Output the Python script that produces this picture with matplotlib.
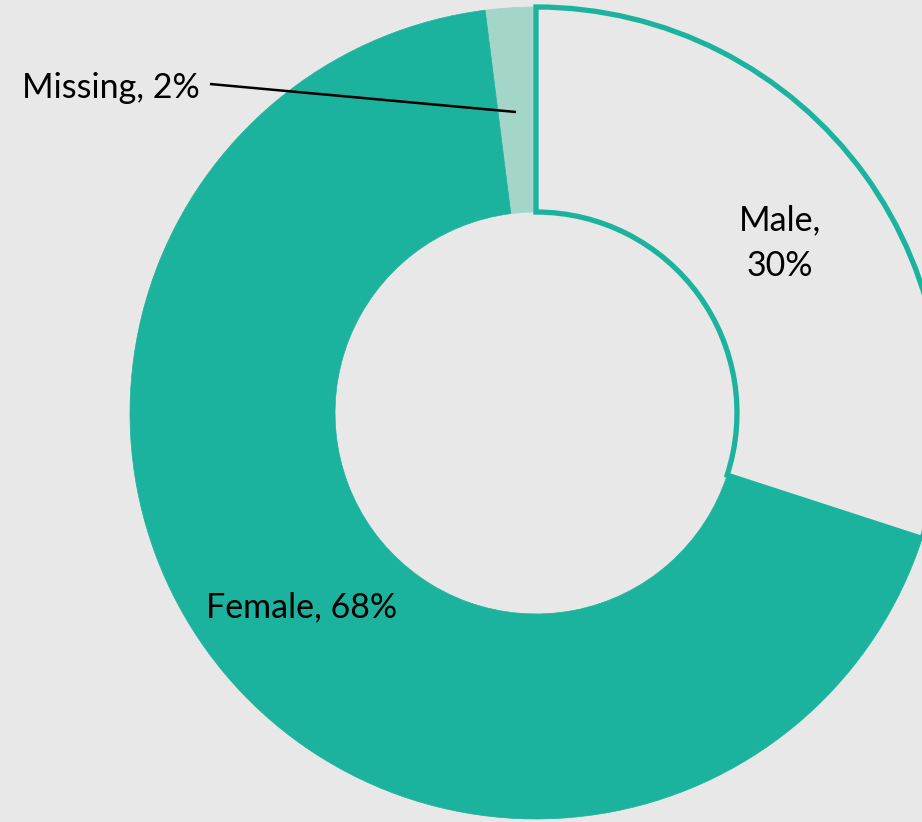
import matplotlib
matplotlib.use("Agg")
import matplotlib.pyplot as plt

categories = ["Male", "Female", "Missing"]
values = [30, 68, 2]
labels = ["Male,\n30%", "Female, 68%", "Missing, 2%"]

TEAL = "#1cb39e"
LIGHT = "#a3d5c9"
BG = "#e8e8e8"

fig = plt.figure(figsize=(9.22, 8.22), dpi=100, facecolor=BG)
ax = fig.add_axes([0, 0, 1, 1])
ax.set_facecolor(BG)
ax.set_xlim(0, 922)
ax.set_ylim(0, 822)
ax.set_aspect("equal")
ax.axis("off")

cx, cy, R = 536, 409, 406
wedges, _ = ax.pie(values, startangle=90, counterclock=False, center=(cx, cy),
                   radius=R, wedgeprops=dict(width=R * 0.505))
wedges[0].set_facecolor(BG)
wedges[0].set_edgecolor(TEAL)
wedges[0].set_linewidth(3.8)
wedges[0].set_zorder(2)
wedges[1].set_facecolor(TEAL)
wedges[1].set_edgecolor(TEAL)
wedges[1].set_linewidth(0.5)
wedges[1].set_zorder(3)
wedges[2].set_facecolor(LIGHT)
wedges[2].set_edgecolor(LIGHT)
wedges[2].set_linewidth(0.5)
wedges[2].set_zorder(1)
ax.set_xlim(0, 922)
ax.set_ylim(0, 822)

font = ["Lato", "DejaVu Sans"]
fs = 24.5
ax.text(780, 822 - 243, labels[0], ha="center", va="center", fontsize=fs,
        family=font, linespacing=1.5, zorder=5)
ax.text(302, 822 - 607, labels[1], ha="center", va="center", fontsize=fs,
        family=font, zorder=5)
ax.text(200, 822 - 88, labels[2], ha="right", va="center", fontsize=fs,
        family=font, zorder=5)
ax.plot([210, 516], [822 - 84, 822 - 112], color="black", lw=1.8, zorder=5,
        solid_capstyle="butt")

fig.savefig("out.png", dpi=100, facecolor=BG)
